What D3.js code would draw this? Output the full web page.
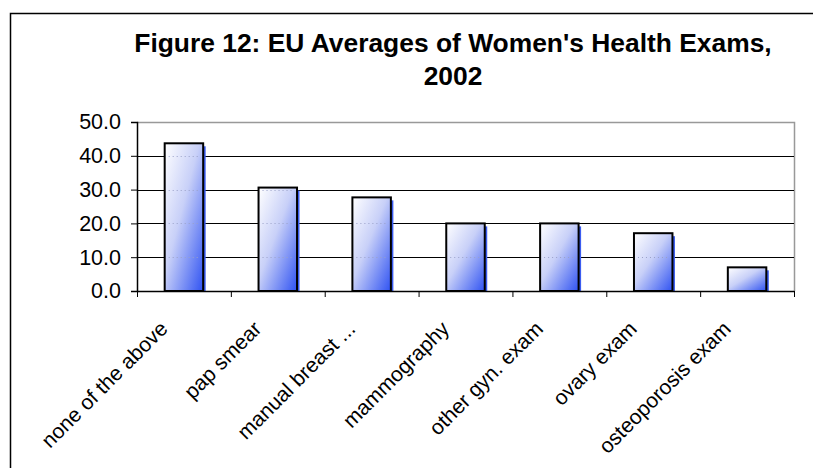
<!DOCTYPE html>
<html>
<head>
<meta charset="utf-8">
<script src="https://cdn.jsdelivr.net/npm/d3@7"></script>
<style>
  body { margin: 0; background: #fff; }
  text { font-family: "Liberation Sans", Arial, sans-serif; }
</style>
</head>
<body>
<div id="chart"></div>
<script>
const categories = ['none of the above', 'pap smear', 'manual breast ...', 'mammography',
  'other gyn. exam', 'ovary exam', 'osteoporosis exam'];
const values = [43.7, 30.6, 27.7, 20.0, 20.0, 17.1, 7.0];
const yTicks = [0, 10, 20, 30, 40, 50];
const titleLines = ["Figure 12: EU Averages of Women's Health Exams,", '2002'];

const width = 813;
const height = 468;
const plot = { left: 137, top: 122, right: 794, bottom: 291 };

const svg = d3.select('#chart').append('svg')
  .attr('width', width)
  .attr('height', height);

const defs = svg.append('defs');
const grad = defs.append('linearGradient')
  .attr('id', 'barFill')
  .attr('x1', 0).attr('y1', 0)
  .attr('x2', 1).attr('y2', 1);
grad.append('stop').attr('offset', '0%').attr('stop-color', '#ffffff');
grad.append('stop').attr('offset', '45%').attr('stop-color', '#c8d0f8');
grad.append('stop').attr('offset', '100%').attr('stop-color', '#2f52f2');

// outer chart border
svg.append('rect')
  .attr('x', 10.5).attr('y', 13.5)
  .attr('width', 820).attr('height', 500)
  .attr('fill', 'none')
  .attr('stroke', '#000')
  .attr('stroke-width', 1.5);

// title
svg.append('text')
  .attr('class', 'title')
  .attr('text-anchor', 'middle')
  .attr('font-weight', 'bold')
  .attr('font-size', 26.4)
  .selectAll('tspan')
  .data(titleLines)
  .enter()
  .append('tspan')
  .attr('x', 453)
  .attr('y', (d, i) => 52 + i * 33)
  .text(d => d);

const x = d3.scaleBand()
  .domain(categories)
  .range([plot.left, plot.right])
  .paddingInner(0.59)
  .paddingOuter(0.295);

const xTicks = d3.scaleLinear().domain([0, categories.length]).range([plot.left, plot.right]);

const y = d3.scaleLinear()
  .domain([0, 50])
  .range([plot.bottom, plot.top]);

// plot frame top/right (gray)
svg.append('path')
  .attr('d', `M${plot.left},${plot.top + 0.5}H${plot.right + 0.5}V${plot.bottom}`)
  .attr('fill', 'none')
  .attr('stroke', '#999')
  .attr('stroke-width', 1.5);

// gridlines
svg.append('g')
  .attr('class', 'grid')
  .selectAll('line')
  .data(yTicks.filter(t => t > 0 && t < 50))
  .enter()
  .append('line')
  .attr('x1', plot.left)
  .attr('x2', plot.right)
  .attr('y1', d => Math.round(y(d)) + 0.5)
  .attr('y2', d => Math.round(y(d)) + 0.5)
  .attr('stroke', '#000')
  .attr('stroke-width', 1);

// bars
const bar = svg.append('g')
  .attr('class', 'bars')
  .selectAll('g.bar')
  .data(categories.map((c, i) => ({ c, v: values[i] })))
  .enter()
  .append('g')
  .attr('class', 'bar');

// shadow
bar.append('rect')
  .attr('x', d => x(d.c) + 2.5)
  .attr('y', d => y(d.v) + 3)
  .attr('width', x.bandwidth())
  .attr('height', d => y(0) - y(d.v) - 3)
  .attr('fill', '#3a5cf0');

bar.append('rect')
  .attr('x', d => x(d.c))
  .attr('y', d => y(d.v))
  .attr('width', x.bandwidth())
  .attr('height', d => y(0) - y(d.v))
  .attr('fill', 'url(#barFill)')
  .attr('stroke', '#000')
  .attr('stroke-width', 2);

// faint dotted gridlines seen through the bars
bar.each(function (d) {
  d3.select(this).selectAll('line')
    .data(yTicks.filter(t => t > 0 && t < d.v))
    .enter()
    .append('line')
    .attr('x1', x(d.c) + 4)
    .attr('x2', x(d.c) + x.bandwidth() - 4)
    .attr('y1', t => Math.round(y(t)) + 0.5)
    .attr('y2', t => Math.round(y(t)) + 0.5)
    .attr('stroke', '#9aa0c8')
    .attr('stroke-dasharray', '1,3');
});

// y axis
const yAxis = svg.append('g')
  .attr('class', 'y axis')
  .attr('transform', `translate(${plot.left},0)`)
  .call(d3.axisLeft(y).tickValues(yTicks).tickFormat(d3.format('.1f')).tickSize(6).tickPadding(10));
yAxis.select('.domain').attr('stroke', '#000').attr('stroke-width', 1.5);
yAxis.selectAll('.tick line').attr('stroke', '#000');
yAxis.selectAll('text')
  .attr('font-size', 21.5)
  .attr('font-family', '"Liberation Sans", Arial, sans-serif')
  .attr('fill', '#000');

// x axis
const xAxis = svg.append('g')
  .attr('class', 'x axis')
  .attr('transform', `translate(0,${plot.bottom})`)
  .call(d3.axisBottom(xTicks).ticks(categories.length).tickFormat('').tickSize(6).tickSizeOuter(0));
xAxis.select('.domain').attr('stroke', '#000').attr('stroke-width', 1.5);
xAxis.selectAll('.tick line').attr('stroke', '#000');

// category labels
svg.append('g')
  .attr('class', 'x labels')
  .selectAll('text')
  .data(categories)
  .enter()
  .append('text')
  .attr('font-size', 21)
  .attr('text-anchor', 'end')
  .attr('transform', d => `translate(${x(d) + x.bandwidth() / 2 - 15},${plot.bottom + 39}) rotate(-45)`)
  .text(d => d);
</script>
</body>
</html>
